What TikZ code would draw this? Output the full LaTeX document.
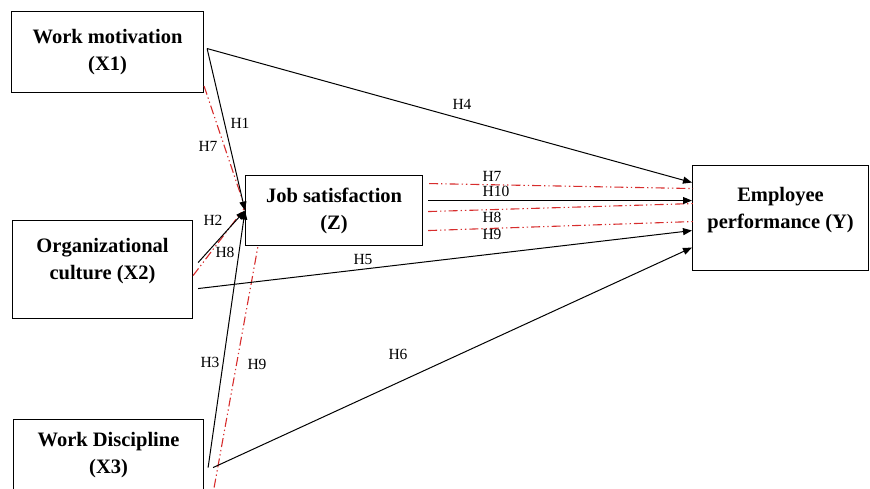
\documentclass[tikz,border=0pt]{standalone}
\usepackage{fontspec}
\setmainfont{Liberation Serif}
\usepackage{xcolor}
\usetikzlibrary{arrows.meta,calc}

\definecolor{hypred}{RGB}{215,45,45}

\tikzset{
  box/.style={draw, line width=1.1pt, anchor=north west, align=center, inner sep=0pt,
    font=\fontsize{20.5}{27}\selectfont\bfseries},
  link/.style={line width=1pt, -{Triangle[length=9pt,width=7pt]}},
  redlink/.style={hypred, line width=1.1pt,
    dash pattern=on 9pt off 3pt on 1.3pt off 3pt on 1.3pt off 3pt},
  hyp/.style={font=\fontsize{15.5}{17}\selectfont, inner sep=0pt}
}

\begin{document}
\begin{tikzpicture}[x=1pt,y=-1pt]
    \useasboundingbox (0,0) rectangle (870,488);
    \clip (0,0) rectangle (870,488);

    % ===== Variables =====
    \node[box, minimum width=192pt, minimum height=81pt] (x1) at (11,11) {Work motivation\\(X1)};
    \node[box, minimum width=180pt, minimum height=98pt] (x2) at (12,220) {Organizational\\culture (X2)\rule[-22pt]{0pt}{0pt}};
    \node[box, minimum width=190pt, minimum height=72pt] (x3) at (13,419) {Work Discipline\\(X3)};
    \node[box, minimum width=177pt, minimum height=70pt] (js) at (245,175) {Job satisfaction\\(Z)};
    \node[box, minimum width=176pt, minimum height=105pt] (emp) at (692,165) {Employee\\performance (Y)\rule[-20pt]{0pt}{0pt}};

    % ===== Attachment points =====
    \coordinate (x1o) at ($(x1.east)+(3,-3.5)$);
    \coordinate (x1r) at ($(x1.south east)+(0,-7)$);
    \coordinate (x2a) at ($(x2.east)+(5,-7)$);
    \coordinate (x2r) at ($(x2.east)+(0,6)$);
    \coordinate (x2b) at ($(x2.east)+(5,19)$);
    \coordinate (x3a) at ($(x3.east)+(4,12)$);
    \coordinate (x3b) at ($(x3.east)+(9,12)$);
    \coordinate (x3r) at ($(x3.east)+(10,32)$);
    \coordinate (jsr) at ($(js.west)+(0,-3)$);
    \coordinate (jsb) at ($(js.south west)+(13,0)$);
    \coordinate (js7) at ($(js.east)+(6,-27)$);
    \coordinate (js10) at ($(js.east)+(5,-10)$);
    \coordinate (js8) at ($(js.east)+(5,1)$);
    \coordinate (js9) at ($(js.east)+(5,20)$);
    \coordinate (e4) at ($(emp.west)+(0,-35.5)$);
    \coordinate (e7) at ($(emp.west)+(1,-29.5)$);
    \coordinate (e10) at ($(emp.west)+(0,-17.5)$);
    \coordinate (e8) at ($(emp.west)+(1,-14.5)$);
    \coordinate (e9) at ($(emp.west)+(1,3.5)$);
    \coordinate (e5) at ($(emp.west)+(0,12.5)$);
    \coordinate (e6) at ($(emp.west)+(0,29.5)$);

    % ===== Indirect paths (red) =====
    \draw[redlink] (x1r) -- (jsr);
    \draw[redlink] (x2r) -- (jsr);
    \draw[redlink] (x3r) -- (jsb);
    \draw[redlink] (js7) -- (e7);
    \draw[redlink] (js8) -- (e8);
    \draw[redlink] (js9) -- (e9);

    % ===== Direct paths =====
    \draw[link] (x1o) -- (e4);
    \draw[link] (x1o) -- (js.west);
    \draw[link] (x2a) -- (js.west);
    \draw[link] (x3a) -- (js.west);
    \draw[link] (x2b) -- (e5);
    \draw[link] (x3b) -- (e6);
    \draw[link] (js10) -- (e10);

    % ===== Hypothesis labels =====
    \node[hyp] (h1) at (240,123.5) {H1};
    \node[hyp] (h2) at (213,220) {H2};
    \node[hyp] (h3) at (210,362) {H3};
    \node[hyp] (h4) at (462,104) {H4};
    \node[hyp] (h5) at (363,259) {H5};
    \node[hyp] (h6) at (398,354.5) {H6};
    \node[hyp] (h7a) at (208,146) {H7};
    \node[hyp] (h8a) at (225,252) {H8};
    \node[hyp] (h9a) at (257,364.5) {H9};
    \node[hyp] (h7b) at (492,176) {H7};
    \node[hyp] (h10) at (496,191) {H10};
    \node[hyp] (h8b) at (492,217) {H8};
    \node[hyp] (h9b) at (492,234.5) {H9};
\end{tikzpicture}
\end{document}
